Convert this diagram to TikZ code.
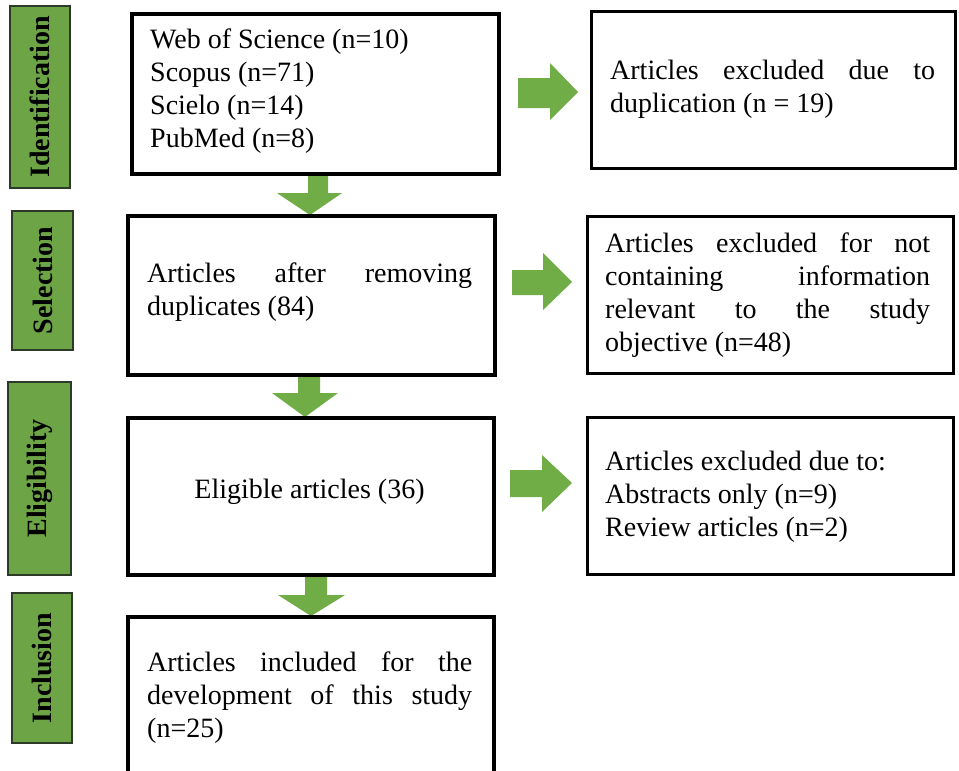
\documentclass[tikz,border=0pt]{standalone}
\usepackage{fontspec}
\setmainfont{Liberation Serif}
\usetikzlibrary{calc}
\definecolor{garrow}{HTML}{70AD47}
\definecolor{glabel}{HTML}{6DA546}
\definecolor{gborder}{HTML}{2E3A28}
\newcommand{\JL}[1]{\makebox[325pt][s]{#1}}
\tikzset{
  box/.style={draw=black, line width=2.5pt, inner sep=0pt, anchor=north west},
  lab/.style={draw=gborder, line width=1.6pt, fill=glabel, rotate=90, inner sep=0pt,
              font=\fontsize{28}{30}\selectfont\bfseries},
  txt/.style={inner sep=0pt, anchor=base west, font=\fontsize{28}{33.2}\selectfont},
  blockarrow/.style={fill=garrow, draw=none}
}
\begin{document}
\begin{tikzpicture}[x=1pt, y=-1pt]
\clip (0,0) rectangle (959,771);
\fill[white] (0,0) rectangle (959,771);

% stage labels
\node[lab, minimum width=182pt, minimum height=60pt] (l1) at (40,97) {Identification};
\node[lab, minimum width=139pt, minimum height=61pt] (l2) at (42.5,280.5) {Selection};
\node[lab, minimum width=193pt, minimum height=63pt] (l3) at (39.5,478.5) {Eligibility};
\node[lab, minimum width=150pt, minimum height=60pt] (l4) at (42,668) {Inclusion};

% boxes (left column)
\node[box, minimum width=366pt, minimum height=159pt] (b1) at (131,13) {};
\node[box, minimum width=366pt, minimum height=158pt] (b2) at (127,215) {};
\node[box, minimum width=365pt, minimum height=156pt] (b3) at (127,417) {};
\node[box, minimum width=365pt, minimum height=200pt] (b4) at (127,616) {};

% boxes (right column)
\node[box, minimum width=364pt, minimum height=157pt] (r1) at (590,10) {};
\node[box, minimum width=366pt, minimum height=157pt] (r2) at (586,215) {};
\node[box, minimum width=366pt, minimum height=157pt] (r3) at (586,416) {};

% down arrows
\fill[blockarrow] (308,0 |- b1.south) -- (328,0 |- b1.south) -- (328,193) -- (342,193)
   -- (310,0 |- b2.north) -- (277,193) -- (308,193) -- cycle;
\fill[blockarrow] (298,0 |- b2.south) -- (320,0 |- b2.south) -- (320,393) -- (338,393)
   -- (305,0 |- b3.north) -- (272,393) -- (298,393) -- cycle;
\fill[blockarrow] (305,0 |- b3.south) -- (327,0 |- b3.south) -- (327,595) -- (345,595)
   -- (311,0 |- b4.north) -- (278,595) -- (305,595) -- cycle;

% right arrows
\fill[blockarrow] (518,78) -- (550,78) -- (550,63) -- (578,92) -- (550,120) -- (550,108) -- (518,108) -- cycle;
\fill[blockarrow] (512,270) -- (543,270) -- (543,253) -- (572,282) -- (543,310) -- (543,295) -- (512,295) -- cycle;
\fill[blockarrow] (510,470) -- (542,470) -- (542,455) -- (572,483) -- (542,512) -- (542,497) -- (510,497) -- cycle;

% redraw box borders on top of arrow tips
\draw[line width=2.5pt] (b1.north west) rectangle (b1.south east);
\draw[line width=2.5pt] (b2.north west) rectangle (b2.south east);
\draw[line width=2.5pt] (b3.north west) rectangle (b3.south east);
\draw[line width=2.5pt] (b4.north west) rectangle (b4.south east);

% texts
\node[txt] (t1) at (150,48) {\parbox[t]{340pt}{Web of Science (n=10)\\Scopus (n=71)\\Scielo (n=14)\\PubMed (n=8)}};
\node[txt] (t2) at (147,282) {\parbox[t]{340pt}{\JL{Articles after removing}\\duplicates (84)}};
\node[txt, anchor=base] (t3) at (309.5,498) {Eligible articles (36)};
\node[txt] (t4) at (147,671) {\parbox[t]{340pt}{\JL{Articles included for the}\\\JL{development of this study}\\(n=25)}};

\node[txt] (s1) at (610,79) {\parbox[t]{340pt}{\JL{Articles excluded due to}\\duplication (n = 19)}};
\node[txt] (s2) at (605,252) {\parbox[t]{340pt}{\JL{Articles excluded for not}\\\JL{containing information}\\\JL{relevant to the study}\\objective (n=48)}};
\node[txt] (s3) at (605,470) {\parbox[t]{340pt}{Articles excluded due to:\\Abstracts only (n=9)\\Review articles (n=2)}};
\end{tikzpicture}
\end{document}
